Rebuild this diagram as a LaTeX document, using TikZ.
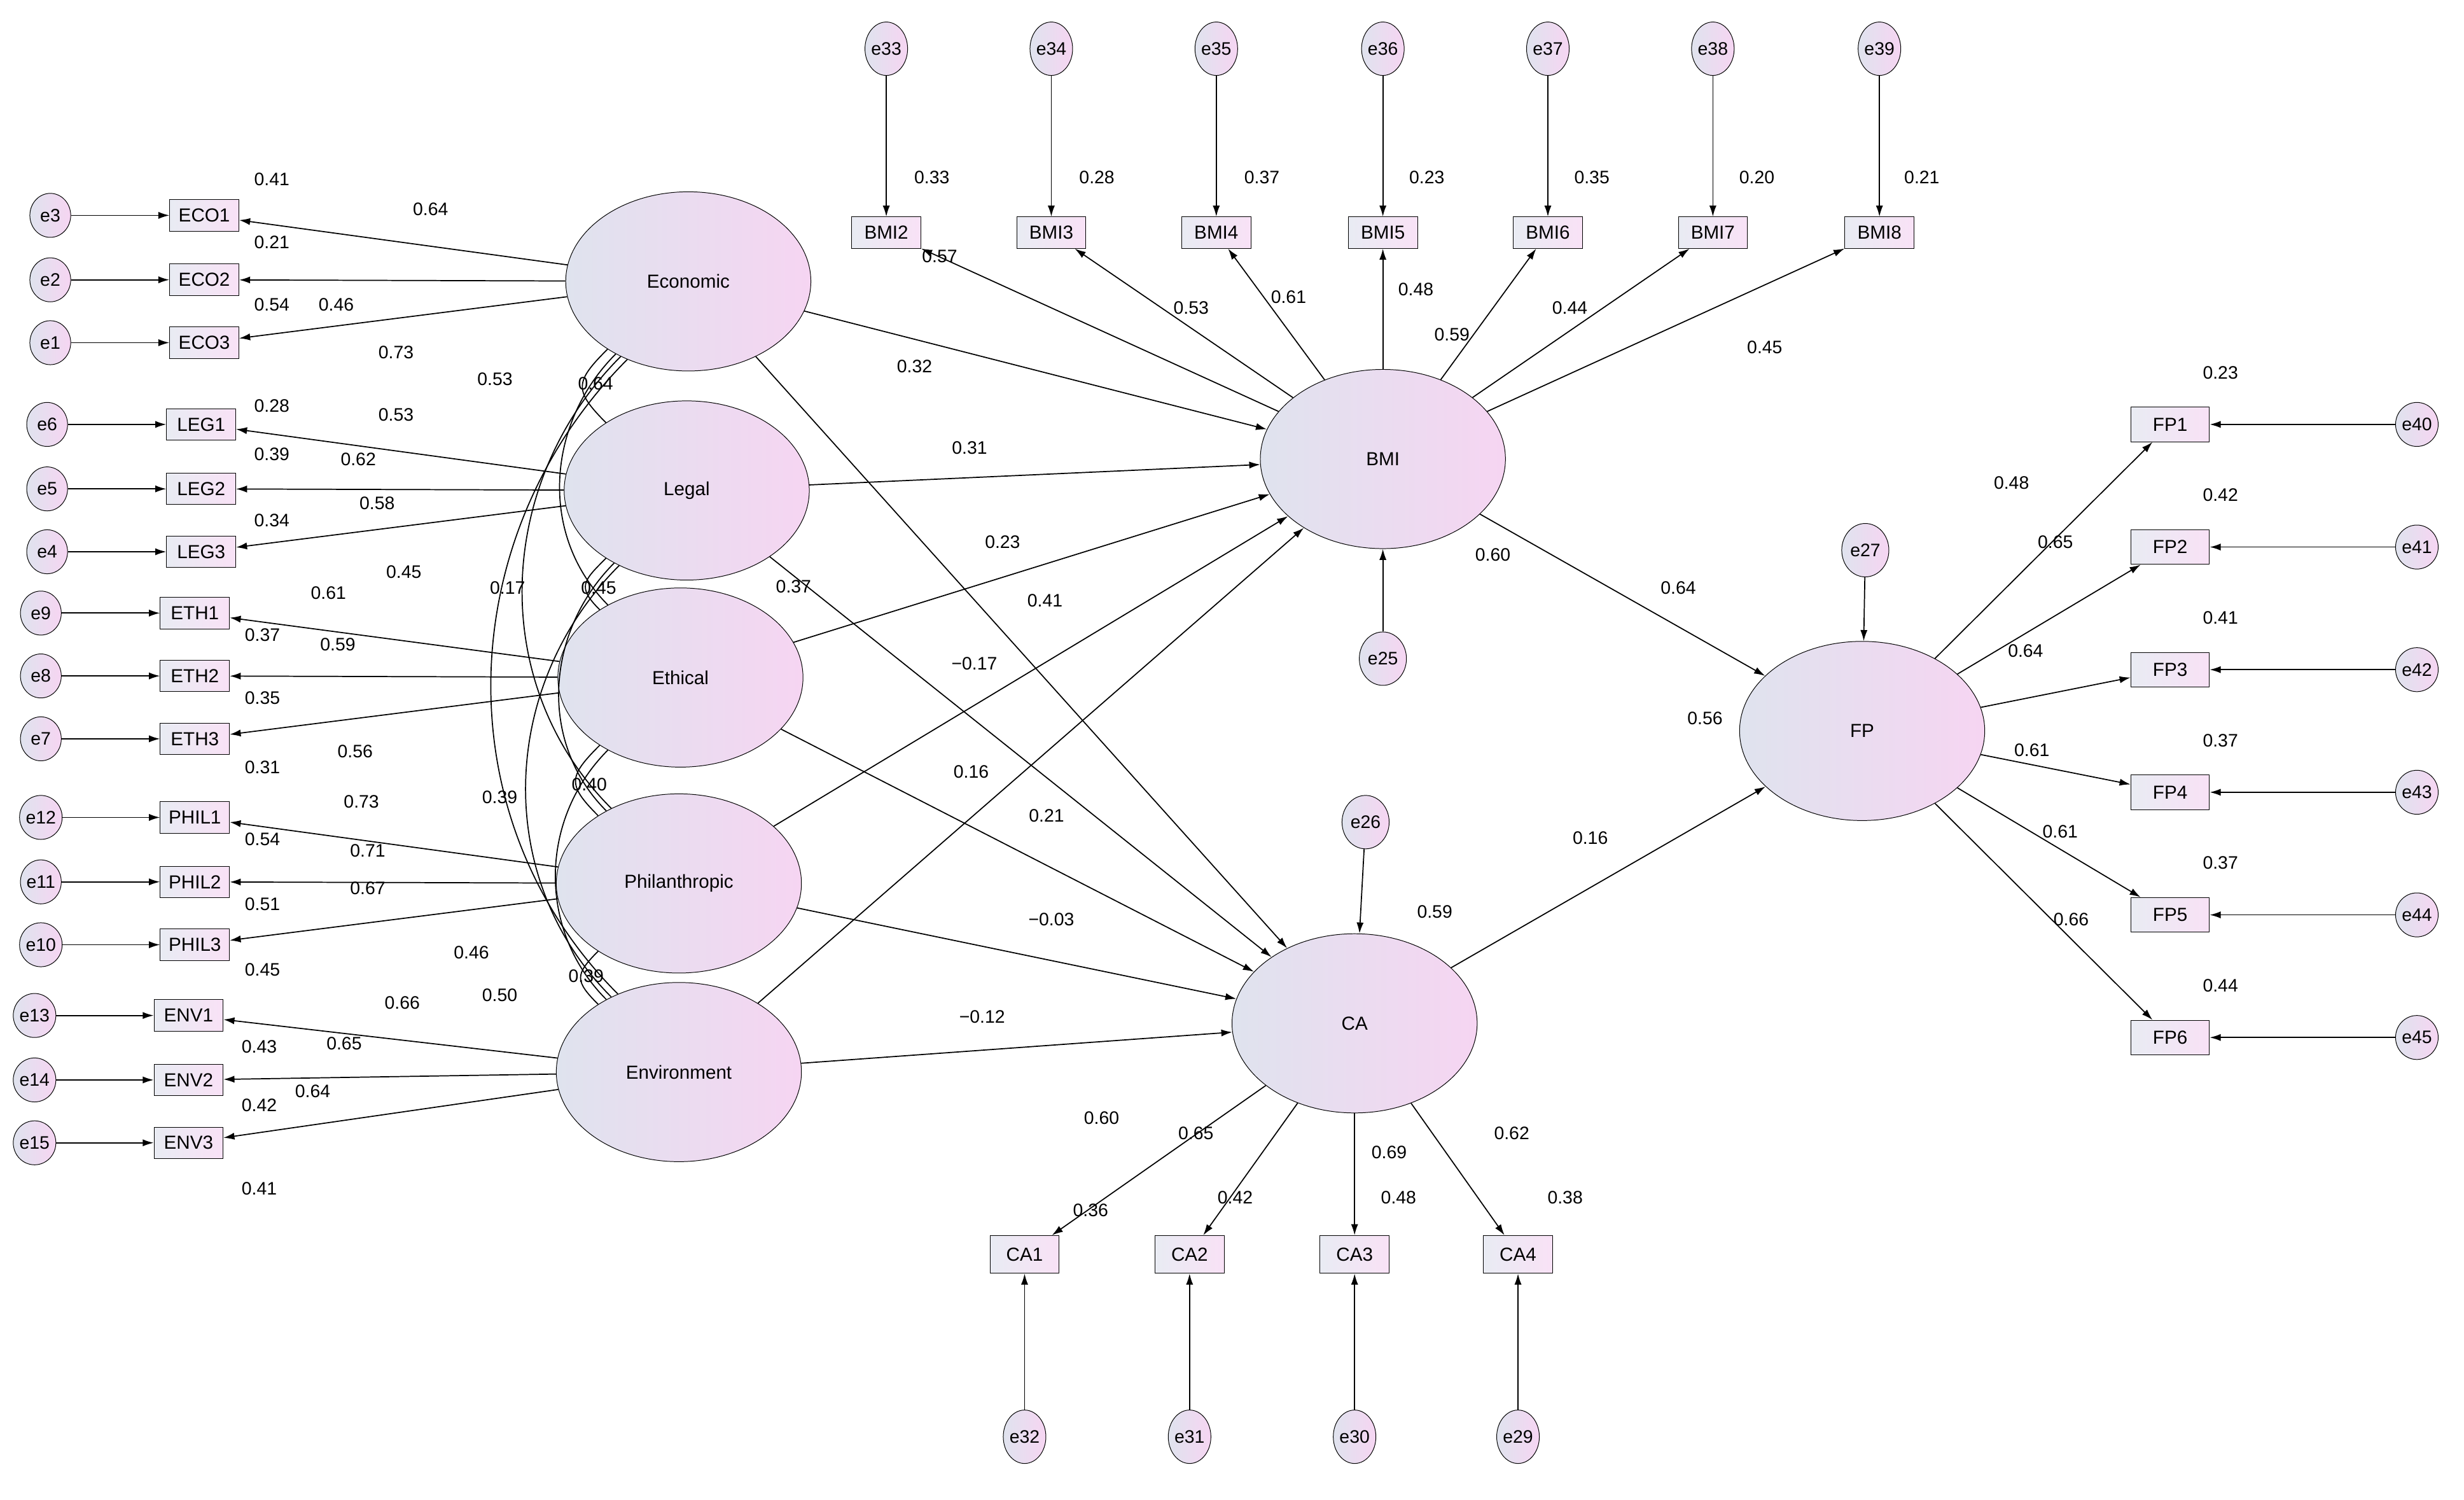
\documentclass[tikz,border=0pt]{standalone}
\usepackage{fontspec}
\setmainfont{Liberation Sans}
\usetikzlibrary{shapes.geometric,arrows.meta}
\definecolor{lgray}{HTML}{DFE3EE}
\definecolor{lpink}{HTML}{F6D5F2}
\begin{document}
\begin{tikzpicture}[x=1pt,y=-1pt,
  lat/.style={ellipse,draw,minimum width=156pt,minimum height=114pt,left color=lgray,right color=lpink,font=\fontsize{12}{14}\selectfont,inner sep=0pt},
  box/.style={rectangle,draw,minimum width=44pt,minimum height=20pt,inner sep=1pt,left color=lgray!70,right color=lpink!70,font=\fontsize{12}{14}\selectfont},
  err/.style={ellipse,draw,minimum width=26pt,minimum height=28pt,inner sep=0pt,left color=lgray,right color=lpink,font=\fontsize{11.5}{12}\selectfont},
  arr/.style={-{Latex[length=7pt,width=4.5pt]},line width=0.7pt},
  cor/.style={line width=0.7pt},
  lab/.style={font=\fontsize{11.5}{12}\selectfont,inner sep=0pt}]
\useasboundingbox (0,0) rectangle (1568,954);
% latent
\node[lat] (eco) at (438,179) {Economic};
\node[lat] (leg) at (437,312) {Legal};
\node[lat] (eth) at (433,431) {Ethical};
\node[lat] (phil) at (432,562) {Philanthropic};
\node[lat] (env) at (432,682) {Environment};
\node[lat] (bmi) at (880,292) {BMI};
\node[lat] (ca) at (862,651) {CA};
\node[lat] (fp) at (1185,465) {FP};
% left indicators
\foreach \n/\t/\bx/\ex/\y/\e/\lv in {eco1/ECO1/130/32/137/e3/eco,eco2/ECO2/130/32/178/e2/eco,eco3/ECO3/130/32/218/e1/eco,
  leg1/LEG1/128/30/270/e6/leg,leg2/LEG2/128/30/311/e5/leg,leg3/LEG3/128/30/351/e4/leg,
  eth1/ETH1/124/26/390/e9/eth,eth2/ETH2/124/26/430/e8/eth,eth3/ETH3/124/26/470/e7/eth,
  phil1/PHIL1/124/26/520/e12/phil,phil2/PHIL2/124/26/561/e11/phil,phil3/PHIL3/124/26/601/e10/phil,
  env1/ENV1/120/22/646/e13/env,env2/ENV2/120/22/687/e14/env,env3/ENV3/120/22/727/e15/env}{
  \node[box] (\n) at (\bx,\y) {\t};
  \node[err] (\e) at (\ex,\y) {\e};
  \draw[arr] (\e) -- (\n);
  \draw[arr] (\lv) -- (\n);
}
% BMI indicators
\foreach \n/\x/\e in {2/564/33,3/669/34,4/774/35,5/880/36,6/985/37,7/1090/38,8/1196/39}{
  \node[box] (bmi\n) at (\x,148) {BMI\n};
  \node[err,minimum height=34pt] (e\e) at (\x,31) {e\e};
  \draw[arr] (e\e) -- (bmi\n);
  \draw[arr] (bmi) -- (bmi\n);
}
% CA indicators
\foreach \n/\x/\e in {1/652/32,2/757/31,3/862/30,4/966/29}{
  \node[box,minimum height=24pt] (ca\n) at (\x,798) {CA\n};
  \node[err,minimum height=34pt] (e\e) at (\x,914) {e\e};
  \draw[arr] (e\e) -- (ca\n);
  \draw[arr] (ca) -- (ca\n);
}
% FP indicators
\foreach \n/\y/\e in {1/270/40,2/348/41,3/426/42,4/504/43,5/582/44,6/660/45}{
  \node[box,minimum width=50pt,minimum height=22pt] (fp\n) at (1381,\y) {FP\n};
  \node[err] (e\e) at (1538,\y) {e\e};
  \draw[arr] (e\e) -- (fp\n);
  \draw[arr] (fp) -- (fp\n);
}
% disturbances
\node[err,minimum width=30pt,minimum height=34pt] (e25) at (880,419) {e25};
\node[err,minimum width=30pt,minimum height=34pt] (e26) at (869,523) {e26};
\node[err,minimum width=30pt,minimum height=34pt] (e27) at (1187,350) {e27};
\draw[arr] (e25) -- (bmi);
\draw[arr] (e26) -- (ca);
\draw[arr] (e27) -- (fp);
% structural
\foreach \s in {eco,leg,eth,phil,env}{
  \draw[arr] (\s) -- (bmi);
  \draw[arr] (\s) -- (ca);
}
\draw[arr] (bmi) -- (fp);
\draw[arr] (ca) -- (fp);
% correlations
\tikzset{cc/.style={out=225,in=135,looseness=1}}
\draw[cor] (eco.220) to[cc,looseness=1.6] (leg.140);
\draw[cor] (leg.220) to[cc,looseness=1.6] (eth.140);
\draw[cor] (eth.220) to[cc,looseness=1.6] (phil.140);
\draw[cor] (phil.220) to[cc,looseness=1.6] (env.140);
\draw[cor] (eco.225) to[cc] (eth.135);
\draw[cor] (leg.225) to[cc] (phil.135);
\draw[cor] (eth.225) to[cc] (env.135);
\draw[cor] (eco.228) to[cc] (phil.132);
\draw[cor] (leg.228) to[cc] (env.132);
\draw[cor] (eco.232) to[cc] (env.128);
% labels
\foreach \x/\y/\t [count=\i] in {
 173/114/0.41,274/133/0.64,173/154/0.21,173/194/0.54,214/194/0.46,252/224/0.73,315/241/0.53,379/244/0.64,
 173/258/0.28,252/264/0.53,173/289/0.39,228/292/0.62,173/331/0.34,240/320/0.58,257/364/0.45,323/374/0.17,
 381/374/0.45,505/373/0.37,209/377/0.61,167/404/0.37,215/410/0.59,167/444/0.35,226/478/0.56,167/488/0.31,
 230/510/0.73,318/507/0.39,375/499/0.40,167/534/0.54,234/541/0.71,167/575/0.51,234/565/0.67,167/617/0.45,
 300/606/0.46,318/633/0.50,373/621/0.39,256/638/0.66,165/666/0.43,219/664/0.65,165/703/0.42,199/694/0.64,165/756/0.41,
 593/113/0.33,698/113/0.28,803/113/0.37,908/113/0.23,1013/113/0.35,1118/113/0.20,1223/113/0.21,
 598/163/0.57,758/196/0.53,820/189/0.61,901/184/0.48,924/213/0.59,999/196/0.44,1123/221/0.45,
 582/233/0.32,617/285/0.31,638/345/0.23,665/382/0.41,620/422/−0.17,618/491/0.16,666/519/0.21,669/585/−0.03,625/647/−0.12,
 950/353/0.60,1068/374/0.64,1085/457/0.56,1012/533/0.16,913/580/0.59,
 701/711/0.60,761/721/0.65,884/733/0.69,962/721/0.62,694/770/0.36,786/762/0.42,890/762/0.48,996/762/0.38,
 1413/237/0.23,1280/307/0.48,1308/345/0.65,1413/315/0.42,1289/414/0.64,1413/393/0.41,1293/477/0.61,1413/471/0.37,
 1311/529/0.61,1413/549/0.37,1318/585/0.66,1413/627/0.44}{
 \node[lab] (lab\i) at (\x,\y) {\t};
}
\end{tikzpicture}
\end{document}
